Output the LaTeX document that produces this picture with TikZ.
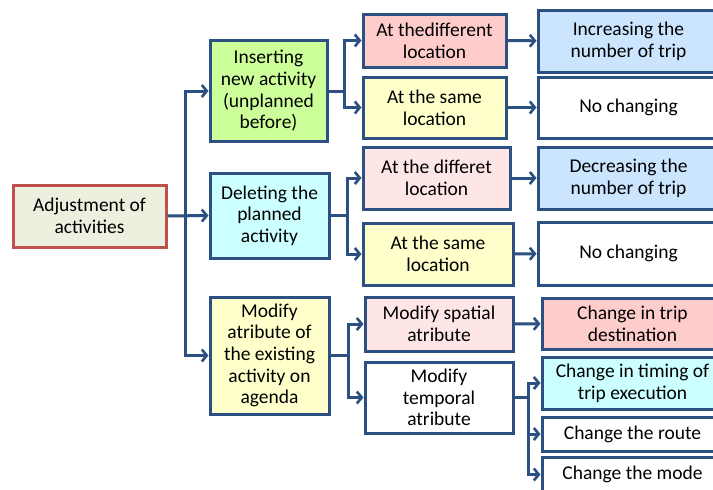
\documentclass[tikz,border=0pt]{standalone}
\usepackage{fontspec}
\setmainfont{Carlito}
\usepackage{xcolor}
\definecolor{adline}{RGB}{45,80,130}
\definecolor{adred}{RGB}{192,80,77}
\definecolor{adbeige}{RGB}{235,241,222}
\definecolor{adgreen}{RGB}{204,255,153}
\definecolor{adcyan}{RGB}{204,255,255}
\definecolor{adyellow}{RGB}{255,255,204}
\definecolor{adpink}{RGB}{255,204,204}
\definecolor{adrose}{RGB}{255,230,230}
\definecolor{adblue}{RGB}{204,229,255}
\usetikzlibrary{arrows.meta, positioning}

\begin{document}
\begin{tikzpicture}[x=1pt, y=-1pt,
  box/.style={draw=adline, line width=3pt, fill=white, align=center,
              inner sep=2pt, font=\fontsize{19.5}{21.7}\selectfont},
  conn/.style={draw=adline, line width=3pt,
               -{Straight Barb[length=5pt, width=12pt, line width=2.6pt]}}]

\useasboundingbox (0,0) rectangle (713,490);
\clip (0,0) rectangle (713,490);

% Root node
\node[box, draw=adred, fill=adbeige, minimum width=153pt, minimum height=62pt]
  (adj) at (89.5,216) {Adjustment of\\activities};

% Second level
\node[box, fill=adgreen, minimum width=117pt, minimum height=101pt]
  (ins) at (268.5,91) {Inserting\\new activity\\(unplanned\\before)};
\node[box, fill=adcyan, minimum width=119pt, minimum height=85pt]
  (del) at (269.5,215.5) {Deleting the\\planned\\activity};
\node[box, fill=adyellow, minimum width=119pt, minimum height=117pt]
  (mod) at (269.5,355.5) {Modify\\atribute of\\the existing\\activity on\\agenda};

% Third level
\node[box, fill=adpink, minimum width=143pt, minimum height=53pt]
  (difA) at (434.5,40.5) {At thedifferent\\location};
\node[box, fill=adyellow, minimum width=143pt, minimum height=61pt]
  (sameA) at (434.5,107.5) {At the same\\location};
\node[box, fill=adrose, minimum width=147pt, minimum height=62pt]
  (difB) at (436.5,178) {At the differet\\location};
\node[box, fill=adyellow, minimum width=150pt, minimum height=62pt]
  (sameB) at (438,254) {At the same\\location};
\node[box, fill=adrose, minimum width=148pt, minimum height=54pt]
  (spat) at (439,324) {Modify spatial\\atribute};
\node[box, minimum width=148pt, minimum height=71pt]
  (temp) at (439,397.5) {Modify\\temporal\\atribute};

% Outcomes
\node[box, fill=adblue, minimum width=181pt, minimum height=62pt]
  (incr) at (628.5,41) {Increasing the\\number of trip};
\node[box, minimum width=181pt, minimum height=61pt]
  (noA) at (628.5,107.5) {No changing};
\node[box, fill=adblue, minimum width=181pt, minimum height=62pt]
  (decr) at (628.5,178) {Decreasing the\\number of trip};
\node[box, minimum width=181pt, minimum height=63pt]
  (noB) at (628.5,253.5) {No changing};
\node[box, fill=adpink, minimum width=181pt, minimum height=51pt]
  (dest) at (632.5,323.5) {Change in trip\\destination};
\node[box, fill=adcyan, minimum width=181pt, minimum height=52pt]
  (timing) at (632.5,383) {Change in timing of\\trip execution};
\node[box, minimum width=181pt, minimum height=34pt]
  (route) at (632.5,434) {Change the route};
\node[box, minimum width=181pt, minimum height=34pt]
  (mode) at (632.5,474.5) {Change the mode};

% Trunk
\coordinate (trunk) at (185,216);
\draw[conn] (adj.east) -- (del.west);
\draw[conn] (trunk) |- (ins.west);
\draw[conn] (trunk) |- (mod.west);

% Branches
\draw[conn] (ins.east) -- ++(16,0) |- (difA.west);
\draw[conn] (ins.east) -- ++(16,0) |- (sameA.west);
\draw[conn] (del.east) -- ++(17,0) |- (difB.west);
\draw[conn] (del.east) -- ++(17,0) |- (sameB.west);
\draw[conn] (mod.east) -- ++(18,0) |- (spat.west);
\draw[conn] (mod.east) -- ++(18,0) |- (temp.west);
\draw[conn] (temp.east) -- ++(14,0) |- (timing.west);
\draw[conn] (temp.east) -- ++(14,0) |- (route.west);
\draw[conn] (temp.east) -- ++(14,0) |- (mode.west);

% Outcome arrows
\draw[conn] (difA) -- (incr);
\draw[conn] (sameA) -- (noA);
\draw[conn] (difB) -- (decr);
\draw[conn] (sameB) -- (noB);
\draw[conn] (spat) -- (dest);

\end{tikzpicture}
\end{document}
